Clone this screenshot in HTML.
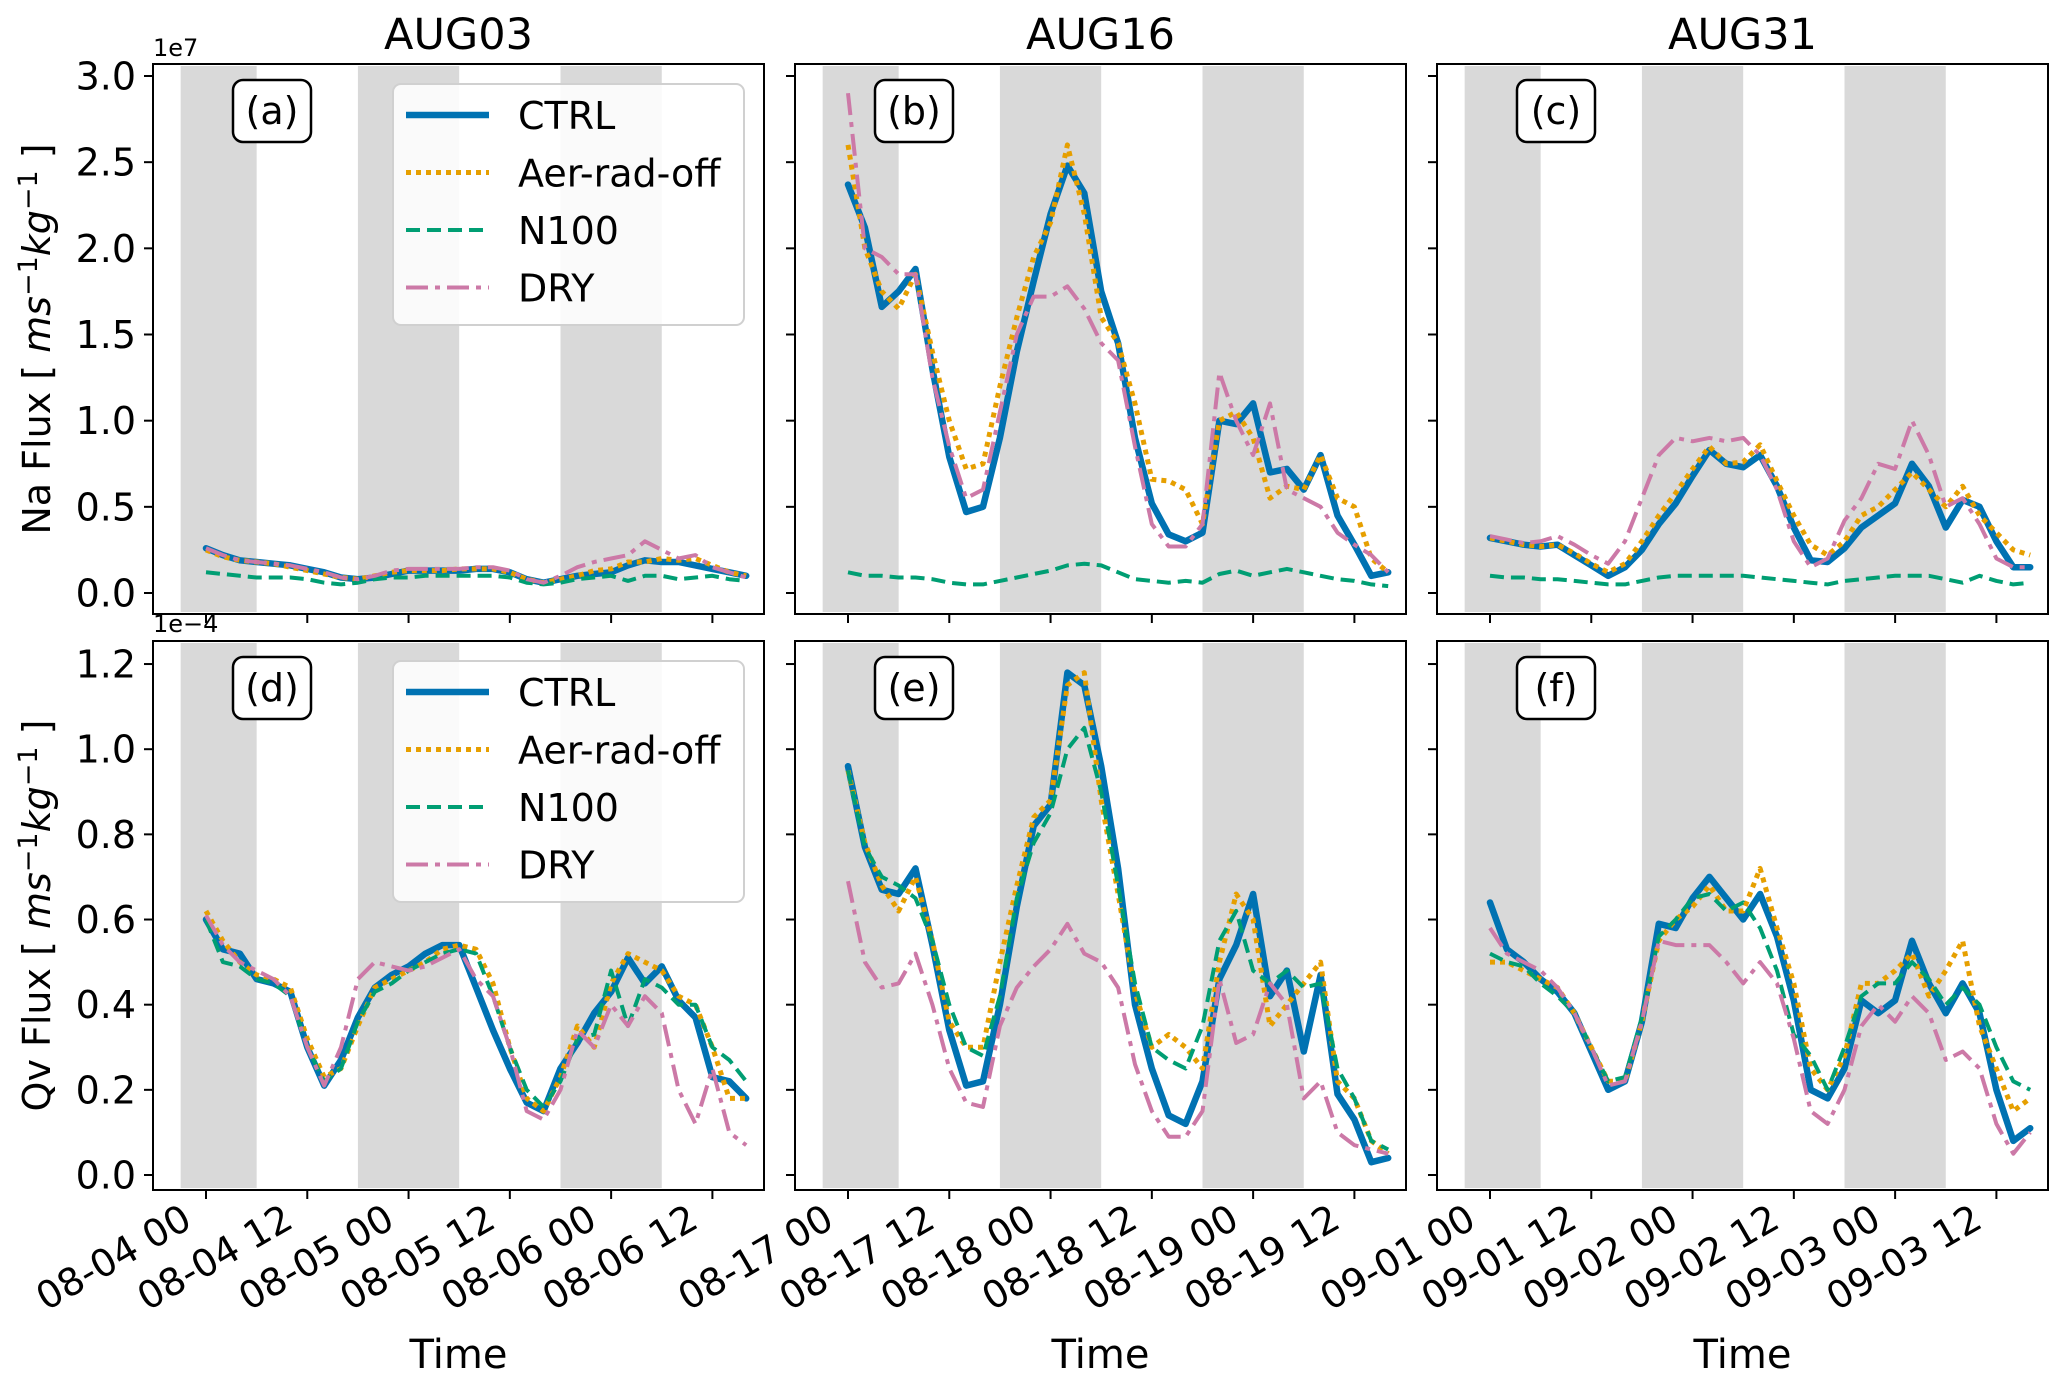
<!DOCTYPE html>
<html><head><meta charset="utf-8"><style>
html,body{margin:0;padding:0;background:#fff;}
svg{display:block;font-family:"DejaVu Sans","Liberation Sans",sans-serif;}
</style></head><body>
<svg id="fig" width="2067" height="1386" viewBox="0 0 2067 1386" xmlns="http://www.w3.org/2000/svg"></svg>
<script>
const hours = [0,2,4,6,8,10,12,14,16,18,20,22,24,26,28,30,32,34,36,38,40,42,44,46,48,50,52,54,56,58,60,62,64];
const xTickHours = [0,12,24,36,48,60];
const xTickLabelsA = ["08-04 00","08-04 12","08-05 00","08-05 12","08-06 00","08-06 12"];
const xTickLabelsB = ["08-17 00","08-17 12","08-18 00","08-18 12","08-19 00","08-19 12"];
const xTickLabelsC = ["09-01 00","09-01 12","09-02 00","09-02 12","09-03 00","09-03 12"];
const nightBands = [[-3,6],[18,30],[42,54]];
const naTicks = [0,0.5,1.0,1.5,2.0,2.5,3.0];
const naTickLabels = ["0.0","0.5","1.0","1.5","2.0","2.5","3.0"];
const qvTicks = [0,0.2,0.4,0.6,0.8,1.0,1.2];
const qvTickLabels = ["0.0","0.2","0.4","0.6","0.8","1.0","1.2"];
const seriesNames = ["CTRL","Aer-rad-off","N100","DRY"];
const caseTitles = ["AUG03","AUG16","AUG31"];
// Na flux (1e7)
const naCtrlA = [.26,.22,.19,.18,.17,.16,.14,.12,.09,.08,.09,.11,.13,.13,.13,.13,.14,.14,.12,.08,.06,.08,.10,.11,.12,.16,.19,.18,.18,.16,.14,.12,.10];
const naAerA  = [.25,.21,.19,.18,.17,.15,.13,.11,.09,.08,.10,.12,.13,.13,.13,.14,.14,.14,.12,.08,.06,.08,.10,.13,.14,.18,.18,.20,.19,.20,.16,.12,.10];
const naN100A = [.12,.11,.10,.09,.09,.09,.08,.06,.05,.06,.08,.09,.09,.10,.10,.10,.10,.10,.09,.06,.05,.06,.08,.09,.10,.07,.10,.10,.08,.09,.10,.08,.07];
const naDryA  = [.26,.22,.19,.18,.17,.16,.14,.12,.09,.08,.10,.13,.14,.14,.14,.14,.15,.15,.13,.08,.06,.10,.15,.18,.20,.22,.30,.25,.20,.22,.15,.12,.09];
const naCtrlB = [2.37,2.12,1.66,1.75,1.88,1.30,0.79,0.47,0.50,0.90,1.40,1.81,2.20,2.48,2.32,1.75,1.45,0.90,0.52,0.34,0.30,0.35,1.00,0.98,1.10,0.70,0.72,0.60,0.80,0.45,0.28,0.10,0.12];
const naAerB  = [2.60,2.00,1.75,1.65,1.85,1.40,1.00,0.72,0.75,1.20,1.60,1.95,2.15,2.60,2.20,1.60,1.45,1.10,0.66,0.65,0.60,0.40,1.00,1.05,0.90,0.55,0.62,0.60,0.80,0.55,0.50,0.20,0.12];
const naN100B = [0.12,0.10,0.10,0.09,0.09,0.08,0.06,0.05,0.05,0.07,0.09,0.11,0.13,0.16,0.17,0.16,0.12,0.08,0.07,0.06,0.07,0.06,0.11,0.13,0.10,0.12,0.14,0.12,0.10,0.08,0.07,0.05,0.04];
const naDryB  = [2.90,2.00,1.95,1.85,1.85,1.25,0.85,0.55,0.60,1.05,1.50,1.72,1.72,1.78,1.65,1.45,1.35,0.85,0.40,0.27,0.27,0.40,1.28,1.00,0.80,1.10,0.60,0.55,0.50,0.35,0.28,0.22,0.12];
const naCtrlC = [.32,.30,.28,.27,.28,.22,.16,.10,.15,.25,.40,.52,.68,.83,.75,.73,.80,.62,.38,.19,.18,.26,.38,.45,.52,.75,.62,.38,.54,.50,.30,.15,.15];
const naAerC  = [.32,.30,.28,.27,.28,.23,.17,.12,.17,.30,.45,.58,.72,.85,.75,.76,.86,.65,.45,.28,.22,.30,.45,.50,.60,.70,.60,.50,.62,.45,.35,.25,.22];
const naN100C = [.10,.09,.09,.08,.08,.07,.06,.05,.05,.07,.09,.10,.10,.10,.10,.10,.09,.08,.07,.06,.05,.07,.08,.09,.10,.10,.10,.08,.06,.10,.07,.05,.06];
const naDryC  = [.33,.31,.29,.30,.33,.28,.22,.17,.30,.55,.80,.90,.88,.90,.88,.90,.80,.60,.30,.15,.20,.42,.55,.75,.72,1.00,.80,.50,.55,.40,.20,.15,.15];
// Qv flux (1e-4)
const qvCtrlA = [.60,.53,.52,.46,.45,.43,.30,.21,.27,.37,.44,.47,.49,.52,.54,.54,.44,.34,.25,.17,.15,.25,.31,.38,.43,.51,.45,.49,.41,.37,.23,.22,.18];
const qvAerA  = [.62,.55,.50,.47,.46,.44,.32,.23,.25,.35,.44,.46,.48,.50,.53,.54,.53,.45,.30,.18,.15,.23,.35,.30,.45,.52,.50,.48,.42,.40,.30,.18,.18];
const qvN100A = [.60,.50,.49,.46,.45,.42,.30,.22,.25,.36,.43,.45,.48,.50,.52,.53,.52,.42,.30,.20,.16,.22,.32,.33,.48,.35,.46,.44,.40,.40,.30,.27,.22];
const qvDryA  = [.61,.54,.50,.48,.46,.42,.30,.21,.30,.46,.50,.49,.48,.49,.51,.53,.46,.42,.30,.15,.13,.20,.34,.30,.40,.35,.42,.38,.20,.12,.25,.10,.07];
const qvCtrlB = [.96,.77,.67,.66,.72,.54,.34,.21,.22,.40,.63,.82,.87,1.18,1.15,.96,.72,.40,.25,.14,.12,.22,.46,.54,.66,.42,.48,.29,.47,.19,.13,.03,.04];
const qvAerB  = [.95,.78,.68,.62,.70,.55,.36,.30,.30,.50,.68,.84,.88,1.15,1.18,.88,.66,.43,.30,.33,.30,.25,.50,.66,.60,.35,.40,.45,.50,.22,.18,.08,.05];
const qvN100B = [.95,.77,.70,.68,.65,.55,.40,.30,.28,.42,.65,.78,.85,1.00,1.05,.90,.68,.45,.30,.27,.25,.35,.55,.62,.48,.45,.48,.44,.45,.25,.18,.08,.06];
const qvDryB  = [.69,.50,.44,.45,.52,.40,.25,.17,.16,.35,.44,.49,.53,.59,.52,.50,.44,.26,.15,.09,.09,.15,.46,.31,.33,.45,.40,.18,.22,.10,.07,.06,.05];
const qvCtrlC = [.64,.53,.50,.46,.43,.38,.29,.20,.22,.36,.59,.58,.65,.70,.65,.60,.66,.56,.41,.20,.18,.25,.41,.38,.41,.55,.45,.38,.45,.38,.20,.08,.11];
const qvAerC  = [.50,.50,.48,.46,.44,.38,.30,.22,.22,.36,.55,.60,.63,.68,.62,.62,.72,.58,.45,.25,.20,.28,.45,.45,.48,.52,.42,.48,.55,.35,.25,.15,.18];
const qvN100C = [.52,.50,.49,.45,.42,.38,.30,.22,.23,.37,.56,.60,.65,.66,.62,.64,.58,.48,.33,.28,.20,.30,.42,.45,.45,.50,.46,.40,.44,.40,.30,.22,.20];
const qvDryC  = [.58,.52,.50,.48,.44,.38,.30,.21,.22,.36,.55,.54,.54,.54,.50,.45,.50,.45,.32,.15,.12,.20,.35,.40,.36,.42,.38,.27,.29,.25,.12,.05,.10];

const NS = "http://www.w3.org/2000/svg";
const svg = document.getElementById("fig");
function mk(tag, attrs, parent){ const e=document.createElementNS(NS,tag); for(const k in attrs) e.setAttribute(k,attrs[k]); (parent||svg).appendChild(e); return e; }

const colLefts = [153,795,1437];
const W = 611;
const rows = [
  {top:64,bottom:614,zero:593,scale:172.33,ticks:naTicks,labels:naTickLabels,offset:"1e7",offY:56,
   data:[[naCtrlA,naAerA,naN100A,naDryA],[naCtrlB,naAerB,naN100B,naDryB],[naCtrlC,naAerC,naN100C,naDryC]],
   panels:["(a)","(b)","(c)"],ylabel:"Na Flux"},
  {top:641,bottom:1190,zero:1175,scale:425.8,ticks:qvTicks,labels:qvTickLabels,offset:"1e\u22124",offY:632,
   data:[[qvCtrlA,qvAerA,qvN100A,qvDryA],[qvCtrlB,qvAerB,qvN100B,qvDryB],[qvCtrlC,qvAerC,qvN100C,qvDryC]],
   panels:["(d)","(e)","(f)"],ylabel:"Qv Flux"}
];
const styles = [
  {color:"#0072B2",w:6.5,dash:"",key:"ctrl"},
  {color:"#E69F00",w:5,dash:"5 5",key:"aer-rad-off"},
  {color:"#009E73",w:4,dash:"14 7",key:"n100"},
  {color:"#CC79A7",w:4,dash:"22 7 5 7",key:"dry"}
];
const xLabelSets = [xTickLabelsA,xTickLabelsB,xTickLabelsC];

rows.forEach((row,ri)=>{
  colLefts.forEach((L,ci)=>{
    const xs = h => L + 53 + h*8.44;
    const ys = v => row.zero - v*row.scale;
    const g = mk("g",{});
    
    
    const clipId = "clip"+ri+ci;
    const cp = mk("clipPath",{id:clipId},g);
    mk("rect",{x:L,y:row.top,width:W,height:row.bottom-row.top},cp);
    nightBands.forEach(b=>{
      const r = mk("rect",{x:xs(b[0]),y:row.top+2,width:xs(b[1])-xs(b[0]),height:row.bottom-row.top-4,fill:"#d9d9d9"},g);
      
      
    });
    const lg = mk("g",{"clip-path":"url(#"+clipId+")"},g);
    row.data[ci].forEach((arr,si)=>{
      const st = styles[si];
      const d = arr.map((v,i)=>(i?"L":"M")+xs(hours[i]).toFixed(1)+","+ys(v).toFixed(1)).join(" ");
      const p = mk("path",{d:d,fill:"none",stroke:st.color,"stroke-width":st.w,"stroke-linejoin":"round","stroke-linecap":si===0?"round":"butt"},lg);
      if(st.dash) p.setAttribute("stroke-dasharray",st.dash);
      
      
    });
    const frame = mk("rect",{x:L,y:row.top,width:W,height:row.bottom-row.top,fill:"none",stroke:"#000","stroke-width":2},g);
    
    
    // y ticks
    row.ticks.forEach((t,ti)=>{
      mk("line",{x1:L-9,x2:L,y1:ys(t),y2:ys(t),stroke:"#000","stroke-width":2},g);
      if(ci===0){
        const tx = mk("text",{x:L-17,y:ys(t)+13.5,"text-anchor":"end","font-size":38,fill:"#000"},g);
        tx.textContent = row.labels[ti];
        
        
      }
    });
    // x ticks
    xTickHours.forEach((h,ti)=>{
      mk("line",{x1:xs(h),x2:xs(h),y1:row.bottom,y2:row.bottom+9,stroke:"#000","stroke-width":2},g);
      if(ri===1){
        const ax = xs(h)-12, ay = row.bottom+36;
        const tx = mk("text",{x:ax,y:ay,"text-anchor":"end","font-size":38,fill:"#000",transform:"rotate(-30 "+ax+" "+ay+")"},g);
        tx.textContent = xLabelSets[ci][ti];
        
        
      }
    });
    // panel label box
    const bx = mk("rect",{x:L+80,y:row.top+16,width:78,height:62,rx:10,fill:"#fff",stroke:"#000","stroke-width":2.5},g);
    
    
    const pl = mk("text",{x:L+119,y:row.top+60,"text-anchor":"middle","font-size":38,fill:"#000"},g);
    pl.textContent = row.panels[ci];
    
    
    if(ri===0){
      const tt = mk("text",{x:L+W/2,y:49,"text-anchor":"middle","font-size":43,fill:"#000"},g);
      tt.textContent = caseTitles[ci];
      
      
    } else {
      const xl = mk("text",{x:L+W/2,y:1368,"text-anchor":"middle","font-size":40,fill:"#000"},g);
      xl.textContent = "Time";
      
      
    }
    if(ci===0){
      const ot = mk("text",{x:L,y:row.offY,"font-size":24,fill:"#000"},g);
      ot.textContent = row.offset;
      
      
      // y label
      const cy = (row.top+row.bottom)/2;
      const yl = mk("text",{x:0,y:0,"text-anchor":"middle","font-size":38,fill:"#000",transform:"translate(50 "+cy+") rotate(-90)"},g);
      
      
      const parts = [[row.ylabel+" [ ",""],["ms","i"],["\u22121","s"],["kg","i"],["\u22121","s"],[" ]",""]];
      let prevSup=false;
      parts.forEach(p=>{
        const ts = mk("tspan",{},yl);
        if(p[1]==="i"){ ts.setAttribute("font-style","italic"); if(prevSup){ts.setAttribute("dy","13");} prevSup=false; }
        else if(p[1]==="s"){ ts.setAttribute("font-size","27"); ts.setAttribute("dy","-13"); prevSup=true; }
        else { if(prevSup) ts.setAttribute("dy","13"); prevSup=false; }
        ts.textContent = p[0];
      });
      // legend
      const lt = ri===0?84:661;
      const lgd = mk("g",{},g);
      
      
      mk("rect",{x:393,y:lt,width:351,height:241,rx:8,fill:"#fff","fill-opacity":0.85,stroke:"#d0d0d0","stroke-width":2},lgd);
      seriesNames.forEach((nm,si)=>{
        const st = styles[si];
        const ey = lt + 31 + si*57.5;
        const ln = mk("line",{x1:406,x2:489,y1:ey,y2:ey,stroke:st.color,"stroke-width":st.w},lgd);
        if(st.dash) ln.setAttribute("stroke-dasharray",st.dash);
        
        
        const t = mk("text",{x:518,y:ey+14,"font-size":38,fill:"#000"},lgd);
        t.textContent = nm;
        
        
      });
    }
  });
});
</script>
</body></html>
